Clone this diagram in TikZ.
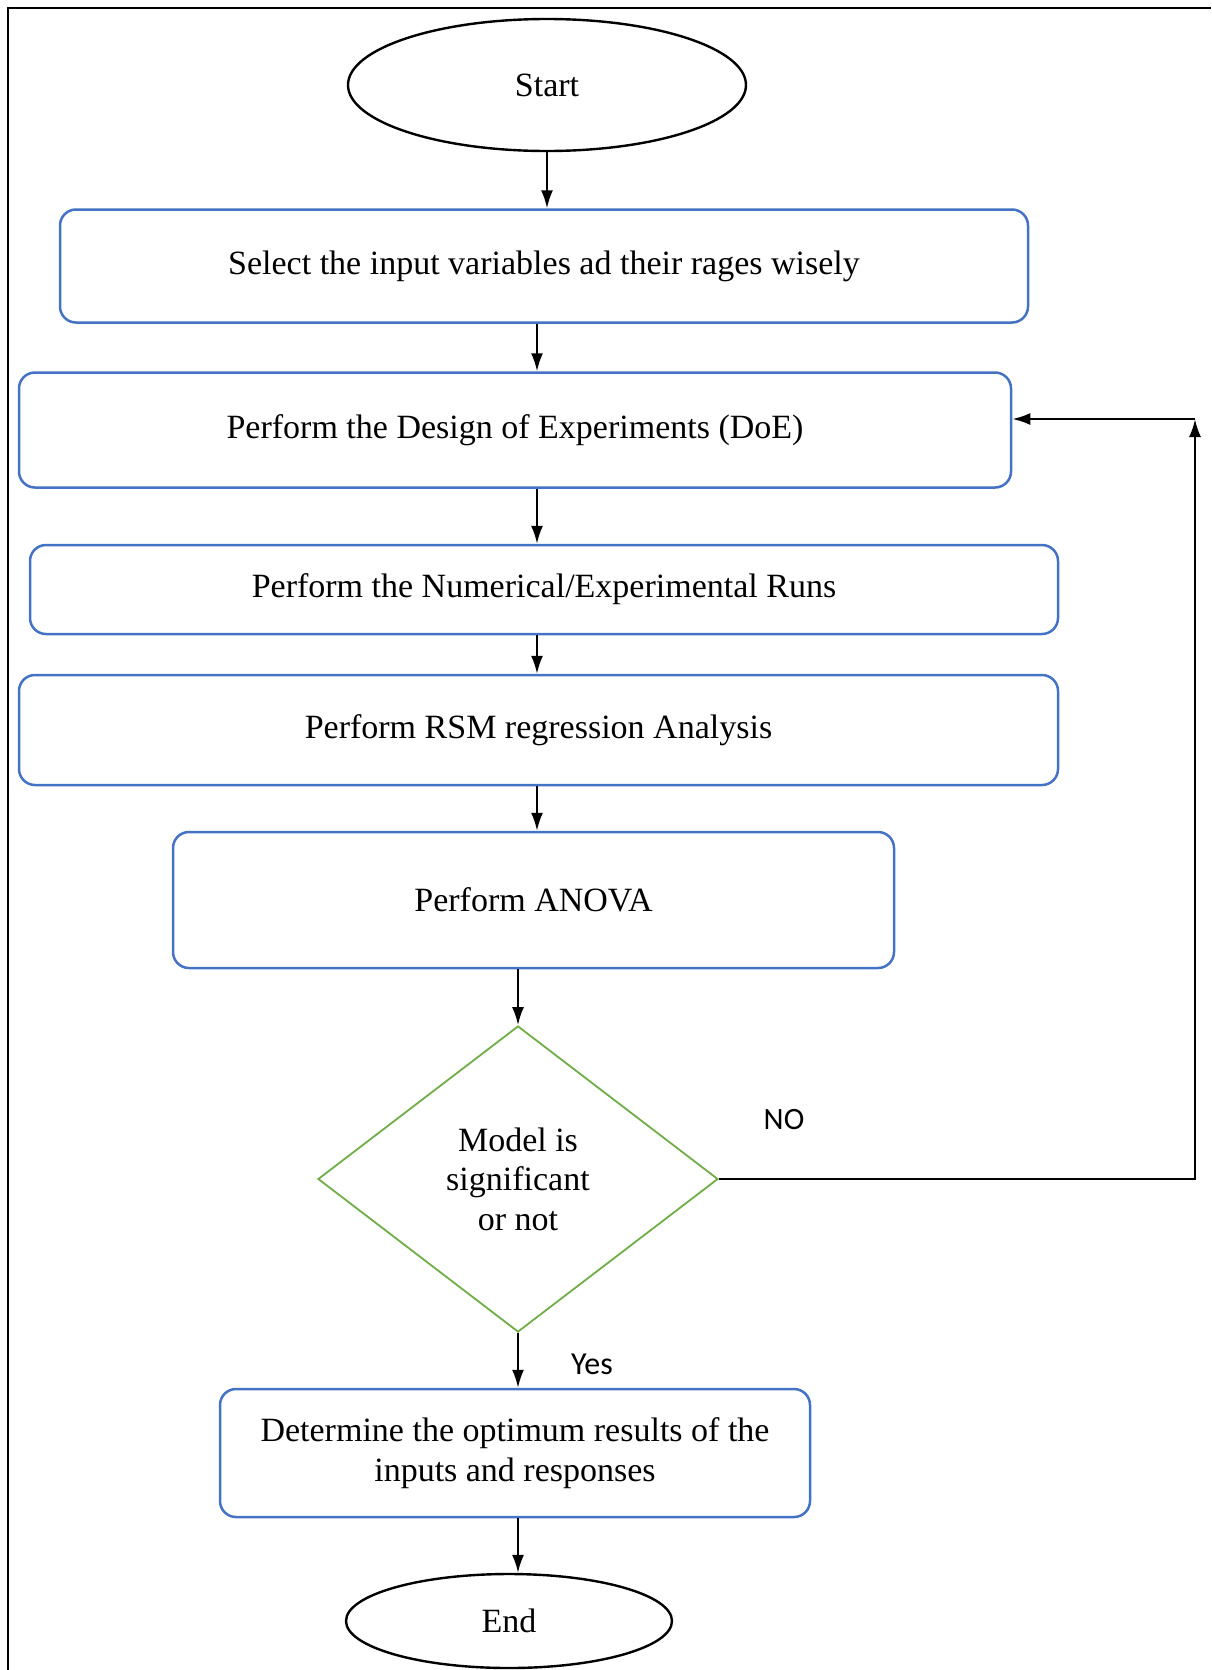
\documentclass[tikz,border=0pt]{standalone}
\usepackage{fontspec}
\setmainfont{Liberation Serif}
\newfontfamily\labelfont{Carlito}
\usetikzlibrary{shapes.geometric,arrows.meta}
\definecolor{boxblue}{HTML}{4472C4}
\definecolor{decgreen}{HTML}{70AD47}
\tikzset{
  stepbox/.style={draw=boxblue,line width=1.25pt,rounded corners=8pt,inner sep=0pt,align=center,font=\fontsize{17}{20}\selectfont},
  term/.style={draw,ellipse,line width=1.2pt,inner sep=0pt,font=\fontsize{17}{20}\selectfont},
  decide/.style={draw=decgreen,diamond,line width=0.9pt,inner sep=0pt,align=center,font=\fontsize{17}{19.7}\selectfont},
  arr/.style={line width=1pt,-{Latex[length=9pt,width=6pt]}}
}
\begin{document}
\begin{tikzpicture}[x=0.5pt,y=-0.5pt]
\useasboundingbox (0,0) rectangle (1211,1670);
\draw[line width=1pt] (8,1670)--(8,8)--(1211,8);
\node[term,minimum width=199pt,minimum height=66pt] (start) at (547,85) {Start};
\node[stepbox,minimum width=484pt,minimum height=56.5pt] (select) at (544,266) {Select the input variables ad their rages wisely};
\node[stepbox,minimum width=496pt,minimum height=57.5pt] (doe) at (515,430) {Perform the Design of Experiments (DoE)};
\node[stepbox,minimum width=514pt,minimum height=44.5pt] (runs) at (544,589.5) {Perform the Numerical/Experimental Runs};
\node[stepbox,minimum width=519.5pt,minimum height=55pt] (rsm) at (538.5,730) {Perform RSM regression Analysis};
\node[stepbox,minimum width=360.5pt,minimum height=68pt] (anova) at (533.5,900) {Perform ANOVA};
\node[decide,minimum width=200pt,minimum height=153pt] (signif) at (518,1179) {Model is\\significant\\or not};
\node[stepbox,minimum width=295pt,minimum height=64pt] (optimum) at (515,1453) {Determine the optimum results of the\\inputs and responses};
\node[term,minimum width=163pt,minimum height=47pt] (end) at (509,1621) {End};
\coordinate (colA) at (547,0);
\coordinate (colB) at (537,0);
\coordinate (colC) at (518,0);
\coordinate (back) at (1195,419);
\draw[arr] (start.south -| colA) -- (select.north -| colA);
\foreach \a/\b in {select/doe,doe/runs,runs/rsm,rsm/anova}
    \draw[arr] (\a.south -| colB) -- (\b.north -| colB);
\foreach \a/\b in {anova/signif,signif/optimum,optimum/end}
    \draw[arr] (\a.south -| colC) -- (\b.north -| colC);
\draw[line width=1.2pt,-{Latex[length=9pt,width=6pt]}] (signif.east) -- (signif.east -| back) -- (back);
\draw[arr,line width=1.2pt] (back) -- (back -| doe.east);
\node[font=\labelfont\fontsize{15.5}{18}\selectfont] (no) at (784,1120) {NO};
\node[font=\labelfont\fontsize{16}{18}\selectfont] (yes) at (592,1364) {Yes};
\end{tikzpicture}
\end{document}
